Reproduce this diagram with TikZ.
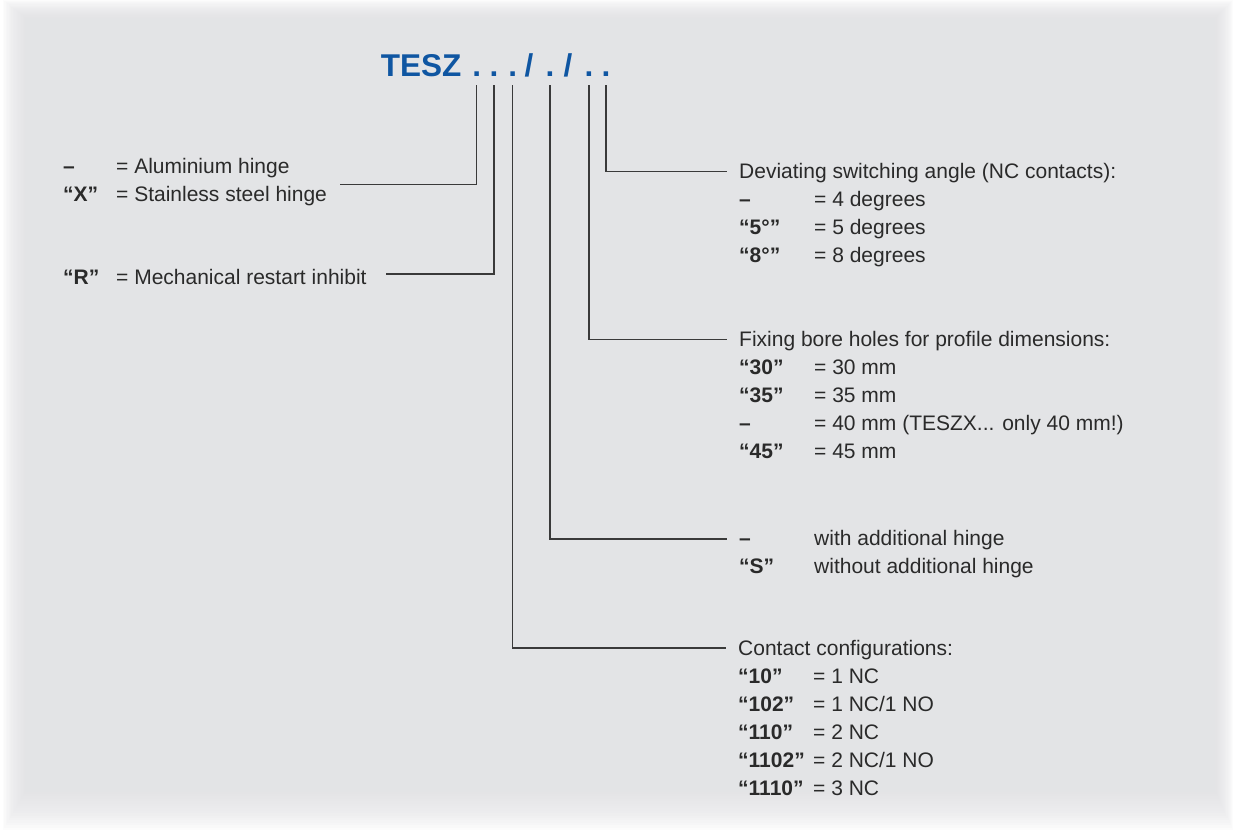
\documentclass[tikz,border=0pt]{standalone}
\usepackage{fontspec}
\setmainfont{Liberation Sans}
\definecolor{panel}{HTML}{E3E4E6}
\definecolor{tblue}{HTML}{0F56A2}
\definecolor{ink}{HTML}{2A2A2A}
\definecolor{lnc}{HTML}{3A3A3A}
\tikzset{
  txt/.style={inner sep=0pt, anchor=base west, text=ink, font=\fontsize{21}{24}\selectfont},
  lbl/.style={txt, font=\fontsize{21}{24}\selectfont\bfseries},
  ttl/.style={inner sep=0pt, anchor=base, text=tblue, font=\fontsize{31.5}{36}\selectfont\bfseries},
  ln/.style={draw=lnc, line width=1.1pt},
}
\begin{document}
\begin{tikzpicture}[x=1pt,y=-1pt]
\useasboundingbox (0,0) rectangle (1233,830);
\fill[white] (0,0) rectangle (1233,830);
\foreach \i in {0,...,29}{
  \fill[panel, opacity=0.1] (3+1.4*\i, 1.1*\i) rectangle (1233-1.1*\i, 830-2.4*\i);
}
% title
\node[ttl, anchor=base west] (tesz) at (380.7,76) {TESZ};
\node[ttl] (d1) at (476.7,76) {.};
\node[ttl] (d2) at (494,76) {.};
\node[ttl] (d3) at (512.7,76) {.};
\node[ttl] (s1) at (529,76) {/};
\node[ttl] (d4) at (550,76) {.};
\node[ttl] (s2) at (568,76) {/};
\node[ttl] (d5) at (589,76) {.};
\node[ttl] (d6) at (606,76) {.};

% left group
\node[lbl] (la) at (63,173.3) {–};
\node[txt] (ta) at (116,173.3) {= Aluminium hinge};
\node[lbl] (lx) at (63,201) {“X”};
\node[txt] (tx) at (116,201) {= Stainless steel hinge};
\node[lbl] (lr) at (63,284) {“R”};
\node[txt] (tr) at (116,284) {= Mechanical restart inhibit};

% group 1
\node[txt] (h1) at (739,178.5) {Deviating switching angle (NC contacts):};
\node[lbl] (g1a) at (739,206.5) {–};
\node[txt] (v1a) at (814,206.5) {= 4 degrees};
\node[lbl] (g1b) at (739,234.5) {“5°”};
\node[txt] (v1b) at (814,234.5) {= 5 degrees};
\node[lbl] (g1c) at (739,262.5) {“8°”};
\node[txt] (v1c) at (814,262.5) {= 8 degrees};

% group 2
\node[txt] (h2) at (739,346.5) {Fixing bore holes for profile dimensions:};
\node[lbl] (g2a) at (739,374.5) {“30”};
\node[txt] (v2a) at (814,374.5) {= 30 mm};
\node[lbl] (g2b) at (739,402.5) {“35”};
\node[txt] (v2b) at (814,402.5) {= 35 mm};
\node[lbl] (g2c) at (739,430.5) {–};
\node[txt] (v2c) at (814,430.5) {= 40 mm (TESZX... only 40 mm!)};
\node[lbl] (g2d) at (739,458.5) {“45”};
\node[txt] (v2d) at (814,458.5) {= 45 mm};

% group 3
\node[lbl] (g3a) at (739,545.5) {–};
\node[txt] (v3a) at (814,545.5) {with additional hinge};
\node[lbl] (g3b) at (739,573.5) {“S”};
\node[txt] (v3b) at (814,573.5) {without additional hinge};

% group 4
\node[txt] (h4) at (738,655) {Contact configurations:};
\node[lbl] (g4a) at (738,683) {“10”};
\node[txt] (v4a) at (813,683) {= 1 NC};
\node[lbl] (g4b) at (738,711) {“102”};
\node[txt] (v4b) at (813,711) {= 1 NC/1 NO};
\node[lbl] (g4c) at (738,739) {“110”};
\node[txt] (v4c) at (813,739) {= 2 NC};
\node[lbl] (g4d) at (738,767) {“1102”};
\node[txt] (v4d) at (813,767) {= 2 NC/1 NO};
\node[lbl] (g4e) at (738,795) {“1110”};
\node[txt] (v4e) at (813,795) {= 3 NC};

% connector ends
\coordinate (e1) at (340,184.5);
\coordinate (e2) at (386,274);
\coordinate (e3) at (726,648);
\coordinate (e4) at (727,539);
\coordinate (e5) at (727,339.5);
\coordinate (e6) at (727,171.7);

\draw[ln] ([yshift=-9pt]d1.base) |- (e1);
\draw[ln] ([yshift=-9pt]d2.base) |- (e2);
\draw[ln] ([yshift=-9pt]d3.base) |- (e3);
\draw[ln] ([yshift=-9pt]d4.base) |- (e4);
\draw[ln] ([yshift=-9pt]d5.base) |- (e5);
\draw[ln] ([yshift=-9pt]d6.base) |- (e6);
\end{tikzpicture}
\end{document}
